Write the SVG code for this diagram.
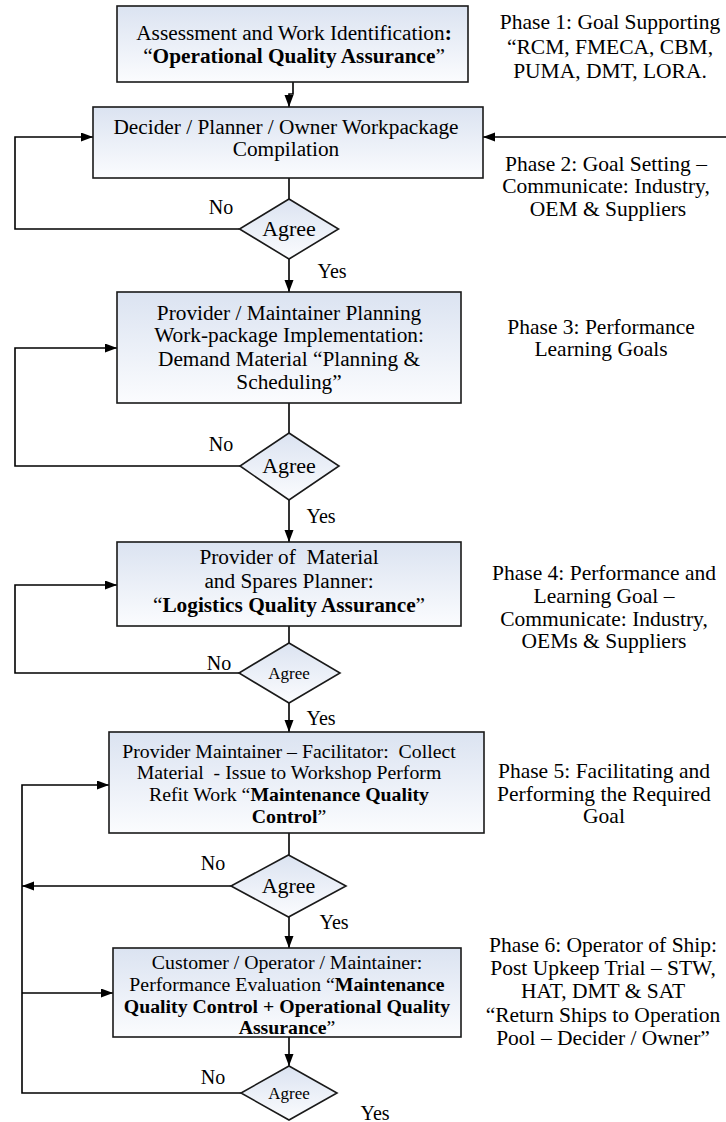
<svg xmlns="http://www.w3.org/2000/svg" width="726" height="1122" viewBox="0 0 726 1122" font-family="Liberation Serif, Times New Roman, serif">
<defs>
<linearGradient id="g" x1="0" y1="0" x2="0" y2="1">
<stop offset="0" stop-color="#dbe3f1"/>
<stop offset="1" stop-color="#fbfcfe"/>
</linearGradient>
<marker id="a" markerUnits="userSpaceOnUse" markerWidth="13" markerHeight="10" refX="12" refY="4.5" orient="auto">
<path d="M0,0 L12,4.5 L0,9 z" fill="#000"/>
</marker>
<style>
.box{fill:url(#g);stroke:#1a1a1a;stroke-width:1.6}
.c{fill:none;stroke:#000;stroke-width:1.6}
.ar{marker-end:url(#a)}
.t{font-size:21.3px;text-anchor:middle}
.t2{font-size:19.8px;text-anchor:middle}
.ag{font-size:22px;text-anchor:middle}
.ph{font-size:21.5px;text-anchor:middle}
.lb{font-size:20px;text-anchor:middle}
.sm{font-size:17px;text-anchor:middle}
.b{font-weight:bold}
</style>
</defs>
<rect width="726" height="1122" fill="#fff"/>
<g id="connectors">
<path class="c ar" d="M293,82 V94 H289 V107"/>
<path class="c ar" d="M726,137 H483"/>
<path class="c" d="M289,178 V199"/>
<path class="c ar" d="M239.5,229 H15 V137 H93"/>
<path class="c ar" d="M289,259 V292"/>
<path class="c" d="M289,403 V433"/>
<path class="c ar" d="M240,466 H15 V348 H117"/>
<path class="c ar" d="M289,500 V542"/>
<path class="c" d="M289,626 V643"/>
<path class="c ar" d="M239,673 H15 V585 H117"/>
<path class="c ar" d="M289,703 V732"/>
<path class="c" d="M289,833 V855"/>
<path class="c ar" d="M231,886 H22"/>
<path class="c ar" d="M289,917 V948"/>
<path class="c ar" d="M289,1037 V1066"/>
<path class="c ar" d="M241,1093 H22 V785 H109"/>
<path class="c ar" d="M22,993 H113"/>
</g>
<g id="box1">
<rect class="box" x="117" y="6" width="351" height="76"/>
<text class="t" x="294" y="40">Assessment and Work Identification<tspan class="b">:</tspan></text>
<text class="t" x="294" y="63">“<tspan class="b">Operational Quality Assurance</tspan>”</text>
</g>
<g id="phase1">
<text class="ph" x="610" y="29">Phase 1: Goal Supporting</text>
<text class="ph" x="610" y="54">“RCM, FMECA, CBM,</text>
<text class="ph" x="610" y="78">PUMA, DMT, LORA.</text>
</g>
<g id="box2">
<rect class="box" x="93" y="107" width="390" height="71"/>
<text class="t" x="286" y="134">Decider / Planner / Owner Workpackage</text>
<text class="t" x="286" y="156">Compilation</text>
</g>
<g id="phase2">
<text class="ph" x="606" y="171">Phase 2: Goal Setting –</text>
<text class="ph" x="606" y="193">Communicate: Industry,</text>
<text class="ph" x="608" y="216">OEM &amp; Suppliers</text>
</g>
<g id="decision1">
<polygon class="box" points="289,199 338.5,229 289,259 239.5,229"/>
<text class="ag" x="289" y="236">Agree</text>
</g>
<text class="lb" x="221" y="214">No</text>
<text class="lb" x="332" y="278">Yes</text>
<g id="box3">
<rect class="box" x="117" y="292" width="344" height="111"/>
<text class="t" x="289" y="320">Provider / Maintainer Planning</text>
<text class="t" x="289" y="342">Work-package Implementation:</text>
<text class="t" x="289" y="366">Demand Material “Planning &amp;</text>
<text class="t" x="289" y="389">Scheduling”</text>
</g>
<g id="phase3">
<text class="ph" x="601" y="334">Phase 3: Performance</text>
<text class="ph" x="601" y="356">Learning Goals</text>
</g>
<g id="decision2">
<polygon class="box" points="289,433 339,466 289,500 240,466"/>
<text class="ag" x="289" y="473">Agree</text>
</g>
<text class="lb" x="221" y="451">No</text>
<text class="lb" x="321" y="523">Yes</text>
<g id="box4">
<rect class="box" x="117" y="542" width="344" height="84"/>
<text class="t" x="289" y="564" xml:space="preserve">Provider of  Material</text>
<text class="t" x="289" y="588">and Spares Planner:</text>
<text class="t" x="289" y="612">“<tspan class="b">Logistics Quality Assurance</tspan>”</text>
</g>
<g id="phase4">
<text class="ph" x="604" y="580">Phase 4: Performance and</text>
<text class="ph" x="604" y="603">Learning Goal –</text>
<text class="ph" x="604" y="626">Communicate: Industry,</text>
<text class="ph" x="604" y="648">OEMs &amp; Suppliers</text>
</g>
<g id="decision3">
<polygon class="box" points="289,643 340,673 289,703 239,673"/>
<text class="sm" x="289" y="679">Agree</text>
</g>
<text class="lb" x="219" y="670">No</text>
<text class="lb" x="321" y="725">Yes</text>
<g id="box5">
<rect class="box" x="109" y="732" width="375" height="101"/>
<text class="t2" x="289" y="758" xml:space="preserve">Provider Maintainer – Facilitator:  Collect</text>
<text class="t2" x="289" y="779" xml:space="preserve">Material  - Issue to Workshop Perform</text>
<text class="t2" x="289" y="801">Refit Work “<tspan class="b">Maintenance Quality</tspan></text>
<text class="t2" x="289" y="823"><tspan class="b">Control</tspan>”</text>
</g>
<g id="phase5">
<text class="ph" x="604" y="778">Phase 5: Facilitating and</text>
<text class="ph" x="604" y="801">Performing the Required</text>
<text class="ph" x="604" y="823">Goal</text>
</g>
<g id="decision5">
<polygon class="box" points="288.5,855 346,886 288.5,917 231,886"/>
<text class="ag" x="288.5" y="893">Agree</text>
</g>
<text class="lb" x="213" y="870">No</text>
<text class="lb" x="334" y="929">Yes</text>
<g id="box6">
<rect class="box" x="113" y="948" width="348" height="89"/>
<text class="t2" x="287" y="969">Customer / Operator / Maintainer:</text>
<text class="t2" x="287" y="991">Performance Evaluation “<tspan class="b">Maintenance</tspan></text>
<text class="t2 b" x="287" y="1013">Quality Control + Operational Quality</text>
<text class="t2" x="287" y="1034"><tspan class="b">Assurance</tspan>”</text>
</g>
<g id="phase6">
<text class="ph" x="603" y="952">Phase 6: Operator of Ship:</text>
<text class="ph" x="603" y="975">Post Upkeep Trial – STW,</text>
<text class="ph" x="603" y="998">HAT, DMT &amp; SAT</text>
<text class="ph" x="603" y="1022">“Return Ships to Operation</text>
<text class="ph" x="603" y="1045">Pool – Decider / Owner”</text>
</g>
<g id="decision6">
<polygon class="box" points="289,1066 337,1093 289,1120 241,1093"/>
<text class="sm" x="289" y="1099">Agree</text>
</g>
<text class="lb" x="213" y="1084">No</text>
<text class="lb" x="375" y="1120">Yes</text>
</svg>
